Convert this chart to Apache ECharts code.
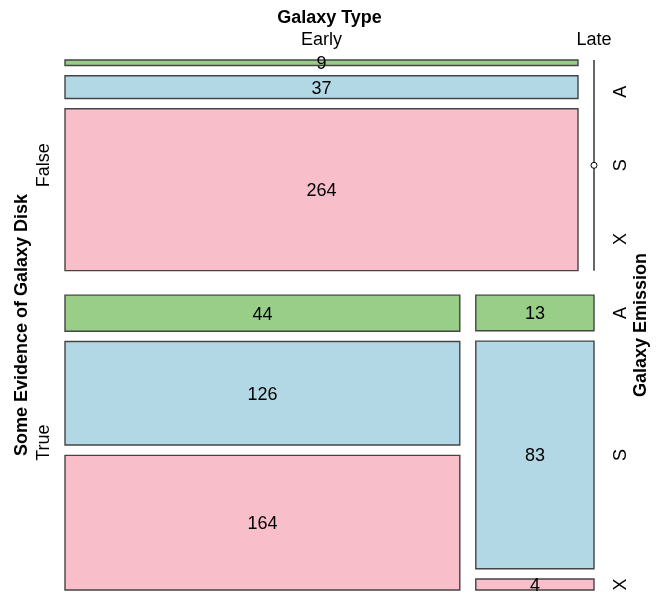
<!DOCTYPE html>
<html lang="en">
<head>
<meta charset="UTF-8">
<title>Galaxy mosaic</title>
<script src="https://cdn.jsdelivr.net/npm/echarts@6/dist/echarts.min.js"></script>
<style>
    * { margin: 0; padding: 0 }
    html, body { width: 100%; height: 100%; background: #fff; }
    #main { width: 660px; height: 597px; }
</style>
</head>
<body>
<div id="main"></div>
<script type="text/javascript">
    var diskLevels = ['False', 'True'];
    var typeLevels = ['Early', 'Late'];
    var emissionLevels = ['A', 'S', 'X'];
    // counts per emission A, S, X
    var falseEarly = [9, 37, 264];
    var falseLate = [0, 0, 0];
    var trueEarly = [44, 126, 164];
    var trueLate = [13, 83, 4];
    var emissionColors = ['#98CE88', '#B3D8E5', '#F8BFCB'];

    var counts = [[falseEarly, falseLate], [trueEarly, trueLate]];
    var FONT = '"Liberation Sans", Arial, sans-serif';
    var FS = 18;

    // layout space, mapped onto the value axes
    var W = 529, H = 530, rowGap = 24.5, colGap = 16, cellGap = 10.3;
    function sum(a) { return a.reduce(function (s, v) { return s + v; }, 0); }

    var grand = 0;
    counts.forEach(function (r) { r.forEach(function (c) { grand += sum(c); }); });

    var rects = [], zeros = [], texts = [];
    var y = 0;
    for (var i = 0; i < counts.length; i++) {
        var rowTot = 0;
        counts[i].forEach(function (c) { rowTot += sum(c); });
        var rowH = (H - rowGap) * rowTot / grand;
        var x = 0;
        for (var j = 0; j < counts[i].length; j++) {
            var cell = counts[i][j];
            var colTot = sum(cell);
            var cw = (W - colGap) * colTot / rowTot;
            var inner = rowH - 2 * cellGap;
            var centers = [];
            if (colTot > 0) {
                var yy = y;
                for (var k = 0; k < cell.length; k++) {
                    var h = inner * cell[k] / colTot;
                    rects.push([x, yy, x + cw, yy + h, cell[k], k]);
                    centers.push(yy + h / 2);
                    yy += h + cellGap;
                }
            } else {
                zeros.push([x, y, y + rowH]);
                for (var k2 = 0; k2 < cell.length; k2++) {
                    centers.push(y + inner / 3 * (k2 + 0.5) + cellGap * k2);
                }
            }
            if (i === 0) texts.push([x + cw / 2, -21, typeLevels[j], 0, 0]);
            if (j === counts[i].length - 1) {
                for (var m = 0; m < centers.length; m++) {
                    texts.push([W + 26, centers[m], emissionLevels[m], 1, 0]);
                }
            }
            x += cw + colGap;
        }
        texts.push([-22, y + rowH / 2, diskLevels[i], 1, 0]);
        y += rowH + rowGap;
    }
    texts.push([W / 2, -43, 'Galaxy Type', 0, 1]);
    texts.push([-44, H / 2, 'Some Evidence of Galaxy Disk', 1, 1]);
    texts.push([W + 46, H / 2, 'Galaxy Emission', 1, 1]);

    var chart = echarts.init(document.getElementById('main'));
    chart.setOption({
        animation: false,
        grid: { left: 65, right: 66, top: 60, bottom: 7 },
        xAxis: { type: 'value', min: 0, max: W, show: false },
        yAxis: { type: 'value', min: 0, max: H, inverse: true, show: false },
        series: [
            {
                type: 'custom',
                data: rects,
                renderItem: function (params, api) {
                    var p0 = api.coord([api.value(0), api.value(1)]);
                    var p1 = api.coord([api.value(2), api.value(3)]);
                    return {
                        type: 'group',
                        children: [
                            {
                                type: 'rect',
                                shape: { x: p0[0], y: p0[1], width: p1[0] - p0[0], height: p1[1] - p0[1] },
                                style: { fill: emissionColors[api.value(5)], stroke: '#444', lineWidth: 1.4 }
                            },
                            {
                                type: 'text',
                                z2: 10,
                                style: {
                                    x: (p0[0] + p1[0]) / 2, y: (p0[1] + p1[1]) / 2 + 1.5,
                                    text: String(api.value(4)),
                                    textAlign: 'center', textVerticalAlign: 'middle',
                                    fill: '#000', font: FS + 'px ' + FONT
                                }
                            }
                        ]
                    };
                }
            },
            {
                type: 'custom',
                data: zeros,
                renderItem: function (params, api) {
                    var a = api.coord([api.value(0), api.value(1)]);
                    var b = api.coord([api.value(0), api.value(2)]);
                    return {
                        type: 'group',
                        children: [
                            { type: 'line', shape: { x1: a[0], y1: a[1], x2: b[0], y2: b[1] },
                              style: { stroke: '#000', lineWidth: 1.2 } },
                            { type: 'circle', shape: { cx: a[0], cy: (a[1] + b[1]) / 2, r: 3 },
                              style: { fill: '#fff', stroke: '#000', lineWidth: 1 } }
                        ]
                    };
                }
            },
            {
                type: 'custom',
                data: texts.map(function (t) { return [t[0], t[1], t[3], t[4]]; }),
                renderItem: function (params, api) {
                    var t = texts[params.dataIndex];
                    var p = api.coord([t[0], t[1]]);
                    return {
                        type: 'text',
                        x: p[0], y: p[1],
                        rotation: t[3] ? Math.PI / 2 : 0,
                        style: {
                            x: 0, y: 1.5,
                            text: t[2],
                            textAlign: 'center', textVerticalAlign: 'middle',
                            fill: '#000',
                            font: (t[4] ? 'bold ' : '') + FS + 'px ' + FONT
                        }
                    };
                }
            }
        ]
    });
</script>
</body>
</html>
